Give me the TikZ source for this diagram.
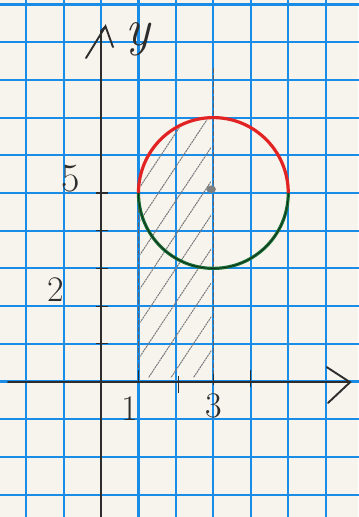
\documentclass[tikz,border=0pt]{standalone}
\usetikzlibrary{calc}
\definecolor{paper}{RGB}{246,244,236}
\definecolor{gridblue}{RGB}{25,140,232}
\definecolor{pencil}{RGB}{45,45,45}
\definecolor{penred}{RGB}{225,35,35}
\definecolor{pengreen}{RGB}{28,110,55}
\definecolor{hatchgray}{RGB}{120,120,125}
\tikzset{
  gridline/.style={gridblue, line width=2.1pt},
  axisline/.style={pencil, line width=1.9pt, line cap=round},
  tickline/.style={pencil, line width=1.1pt},
  hatchline/.style={hatchgray, line width=1pt, dash pattern=on 2pt off 0.7pt},
  guide/.style={hatchgray!80!black, line width=1pt, dash pattern=on 5pt off 2pt},
  numlabel/.style={pencil, font=\fontsize{36}{36}\selectfont, inner sep=0pt}
}
\begin{document}
\begin{tikzpicture}[x=37.45pt, y=37.7pt]
  % page
  \fill[paper] (-2.697,-3.594) rectangle (6.862,10.119);
  \useasboundingbox (-2.697,-3.594) rectangle (6.862,10.119);
  % grid
  \foreach \i in {-2,...,6} \draw[gridline] (\i,-3.7) -- (\i,10.2);
  \foreach \j in {-3,...,10} \draw[gridline] (-2.8,\j) -- (6.95,\j);
  % hatched region
  \begin{scope}
    \clip (1.05,0.1) -- (1.05,5) arc[start angle=180, end angle=92, radius=1.95] -- (2.95,0.1) -- cycle;
    \foreach \c in {-3.6,-3.0,...,3.1}
      \draw[hatchline] (\c,0) -- ($(\c,0)+(6,9)$);
  \end{scope}
  % guide lines
  \draw[guide] (1,0) -- (1,5);
  \draw[guide] (3,0) -- (3,8.34);
  % circle
  \draw[penred, line width=3.2pt] (1,5) arc[start angle=180, end angle=0, radius=2];
  \draw[pengreen, line width=3.2pt] (1,5) arc[start angle=180, end angle=360, radius=2];
  \draw[black!60!pengreen, line width=0.8pt] (1,5) arc[start angle=180, end angle=360, radius=2];
  \fill[gray] (2.94,5.1) ellipse[x radius=0.13, y radius=0.1];
  % axes
  \coordinate (ytip) at (0.12,9.42);
  \coordinate (xtip) at (6.65,-0.02);
  \draw[axisline] (0,-3.7) -- (0,9.3) -- (ytip);
  \draw[axisline] (-0.4,8.58) -- (ytip) -- (0.32,8.87);
  \draw[axisline, line width=2.4pt] (-2.48,-0.02) -- (xtip);
  \draw[axisline] (6.03,0.38) -- (xtip) -- (6.06,-0.57);
  % ticks
  \foreach \j in {1,...,5} \draw[tickline] (-0.14,\j) -- (0.18,\j);
  \foreach \i/\a/\b in {1/-0.05/0.3, 2.06/-0.3/0.15, 3/-0.1/0.2, 4/-0.15/0.3}
    \draw[tickline] (\i,\a) -- (\i,\b);
  % labels
  \node[numlabel, font=\fontsize{52}{52}\selectfont\itshape] (ylab) at (0.98,9.08) {y};
  \node[numlabel, font=\fontsize{40}{40}\selectfont] (five) at (-0.80,5.37) {5};
  \node[numlabel] (two) at (-1.20,2.43) {2};
  \node[numlabel] (one) at (0.77,-0.73) {1};
  \node[numlabel] (three) at (3.02,-0.65) {3};
\end{tikzpicture}
\end{document}
